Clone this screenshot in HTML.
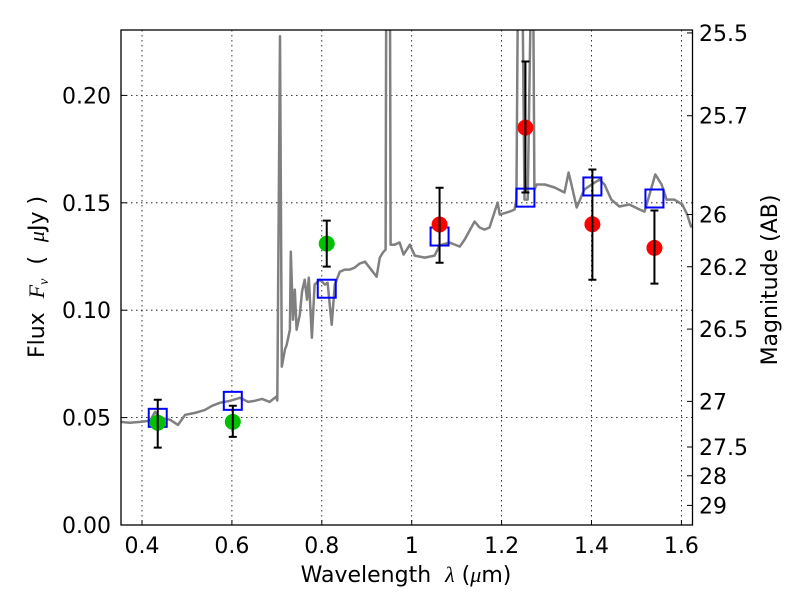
<!DOCTYPE html>
<html><head><meta charset="utf-8">
<style>
html,body{margin:0;padding:0;background:#fff;}
svg{display:block;font-family:"DejaVu Sans","Liberation Sans",sans-serif;}
svg text{white-space:pre;}
</style></head>
<body>
<svg id="chart" width="800" height="600" viewBox="0 0 800 600">
<defs><clipPath id="clip"><rect x="121" y="30" width="571.5" height="495"/></clipPath></defs>
<rect x="0" y="0" width="800" height="600" fill="#fff"/>
<g id="grid"></g>
<g id="spec" clip-path="url(#clip)"></g>
<g id="marks"></g>
<rect x="121" y="30" width="571.5" height="495" fill="none" stroke="#000" stroke-width="1.3"/>
<g id="axes"></g>
<text x="0" y="0" transform="translate(44,277) rotate(-90)" text-anchor="middle" font-size="22">Flux  <tspan font-family="Liberation Serif,serif" font-style="italic">F<tspan font-size="14" dy="4">ν</tspan></tspan><tspan dy="-4">  (  </tspan><tspan font-family="Liberation Serif,serif" font-style="italic">μ</tspan>Jy )</text>
<text x="406" y="582" text-anchor="middle" font-size="22">Wavelength  <tspan font-family="Liberation Serif,serif" font-style="italic">λ</tspan> (<tspan font-family="Liberation Serif,serif" font-style="italic">μ</tspan>m)</text>
<text x="0" y="0" transform="translate(777,280) rotate(-90)" text-anchor="middle" font-size="22">Magnitude (AB)</text>
</svg>
<script>
const xTicks=[0.4,0.6,0.8,1.0,1.2,1.4,1.6];
const xTickLabels=["0.4","0.6","0.8","1","1.2","1.4","1.6"];
const yTicks=[0,0.05,0.10,0.15,0.20];
const yTickLabels=["0.00","0.05","0.10","0.15","0.20"];
const magTicks=[25.5,25.7,26,26.2,26.5,27,27.5,28,29];
const magTickLabels=["25.5","25.7","26","26.2","26.5","27","27.5","28","29"];
const specWave=[0.353,0.373,0.396,0.418,0.429,0.440,0.462,0.480,0.496,0.518,0.540,0.556,0.573,0.596,0.618,0.636,0.651,0.667,0.684,0.698,0.701,0.707,0.711,0.718,0.722,0.729,0.731,0.736,0.740,0.744,0.751,0.756,0.762,0.767,0.771,0.778,0.784,0.796,0.807,0.813,0.822,0.829,0.840,0.851,0.862,0.873,0.884,0.896,0.922,0.929,0.936,0.942,0.944,0.951,0.953,0.962,0.973,0.982,0.996,1.007,1.029,1.051,1.062,1.084,1.107,1.118,1.140,1.151,1.162,1.173,1.191,1.196,1.218,1.229,1.233,1.238,1.244,1.251,1.258,1.269,1.273,1.278,1.296,1.318,1.340,1.349,1.358,1.367,1.384,1.407,1.418,1.429,1.444,1.462,1.484,1.507,1.518,1.529,1.542,1.556,1.567,1.584,1.602,1.613,1.622];
const specFlux=[.048,.0476,.048,.0485,.0527,.0499,.049,.0466,.0513,.0522,.0536,.0555,.0569,.0578,.0592,.0573,.0578,.0587,.0573,.0597,.058,.2275,.0737,.0816,.0839,.0909,.1273,.0956,.1096,.0909,.0979,.1086,.1142,.1049,.1152,.0872,.1119,.1142,.1119,.1128,.0932,.1119,.1179,.1189,.1189,.1198,.1217,.1226,.1156,.1245,.1268,.1282,.30,.30,.1305,.1305,.1315,.1259,.1305,.1254,.1245,.1254,.1301,.1315,.1296,.1329,.1413,.1385,.1375,.1385,.1501,.1445,.1459,.1469,.1515,.30,.30,.1515,.1515,.30,.1562,.1585,.1585,.1571,.1548,.1641,.1562,.1478,.1562,.1594,.1608,.1585,.1515,.1483,.1492,.1469,.1459,.1538,.1632,.1585,.1515,.1515,.1492,.1445,.1385];
const obsWave=[0.435,0.602,0.811,1.062,1.253,1.402,1.540];
const obsFlux=[0.0476,0.048,0.131,0.1399,0.185,0.140,0.129];
const obsErrHi=[0.0583,0.0555,0.1417,0.157,0.2158,0.1655,0.1464];
const obsErrLo=[0.036,0.041,0.1203,0.1221,0.1548,0.1142,0.1124];
const obsColor=["#00c000","#00c000","#00c000","#ff0000","#ff0000","#ff0000","#ff0000"];
const modelFlux=[0.0499,0.0578,0.110,0.1343,0.1524,0.1576,0.152];

const NS="http://www.w3.org/2000/svg";
function X(w){return 142+(w-0.4)*449.5;}
function Y(f){return 525-f*2148;}
function magToFlux(m){return Math.pow(10,(23.9-m)/2.5);}
function el(tag,attrs,parent){const e=document.createElementNS(NS,tag);for(const k in attrs)e.setAttribute(k,attrs[k]);parent.appendChild(e);return e;}
const grid=document.getElementById('grid'),axes=document.getElementById('axes'),spec=document.getElementById('spec'),marks=document.getElementById('marks');

xTicks.forEach((t,i)=>{
  const gl=el('line',{x1:X(t),x2:X(t),y1:30,y2:525,stroke:'#000','stroke-width':0.8,'stroke-dasharray':'1.5,3.5'},grid);
  
  
  const tk=el('line',{x1:X(t),x2:X(t),y1:525,y2:520,stroke:'#000','stroke-width':1},axes);
  
  
  const tx=el('text',{x:X(t),y:553,'text-anchor':'middle','font-size':22},axes);
  tx.textContent=xTickLabels[i];
  
  
});
yTicks.forEach((t,i)=>{
  const gl=el('line',{x1:121,x2:692,y1:Y(t),y2:Y(t),stroke:'#000','stroke-width':0.8,'stroke-dasharray':'1.5,3.5'},grid);
  
  
  const tk=el('line',{x1:121,x2:127,y1:Y(t),y2:Y(t),stroke:'#000','stroke-width':1},axes);
  
  
  const tx=el('text',{x:111,y:Y(t)+8,'text-anchor':'end','font-size':22},axes);
  tx.textContent=yTickLabels[i];
  
  
});
magTicks.forEach((m,i)=>{
  const y=Y(magToFlux(m));
  const tk=el('line',{x1:687,x2:692.5,y1:y,y2:y,stroke:'#000','stroke-width':1},axes);
  
  
  const tx=el('text',{x:699,y:y+8,'text-anchor':'start','font-size':22},axes);
  tx.textContent=magTickLabels[i];
  
  
});

const pts=specWave.map((w,i)=>X(w).toFixed(1)+','+Y(specFlux[i]).toFixed(1)).join(' ');
const line=el('polyline',{points:pts,fill:'none',stroke:'#808080','stroke-width':2.5,'stroke-linejoin':'round'},spec);



obsWave.forEach((w,i)=>{
  const x=X(w);
  const sq=el('rect',{x:x-9,y:Y(modelFlux[i])-9,width:18,height:18,fill:'none',stroke:'#0000ff','stroke-width':2},marks);
  
  
  const c=el('circle',{cx:x,cy:Y(obsFlux[i]),r:8,fill:obsColor[i]},marks);
  
  
  const eb=el('path',{d:`M${x},${Y(obsErrHi[i])}V${Y(obsErrLo[i])}M${x-4},${Y(obsErrHi[i])}h8M${x-4},${Y(obsErrLo[i])}h8`,stroke:'#000','stroke-width':2,fill:'none'},marks);
  
  
});
</script>
</body></html>
